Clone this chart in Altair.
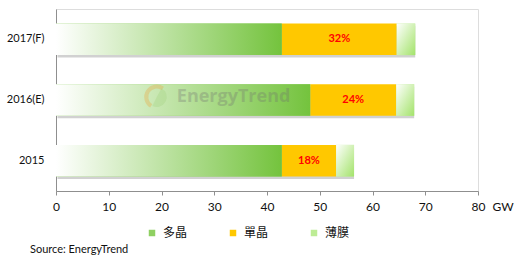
import altair as alt
import pandas as pd

# ---- data ----
categories = ["2017(F)", "2016(E)", "2015"]
series_names = ["多晶", "單晶", "薄膜"]
poly_gw = [42.8, 48.2, 42.8]    # 多晶
mono_gw = [21.8, 16.3, 10.3]    # 單晶
thin_gw = [3.5, 3.4, 3.4]       # 薄膜
mono_share = ["32%", "24%", "18%"]
x_ticks = [0, 10, 20, 30, 40, 50, 60, 70, 80]

# ---- build tables ----
rows = []
for c, p, m, t, s in zip(categories, poly_gw, mono_gw, thin_gw, mono_share):
    a = 0.0
    for name, v in zip(series_names, [p, m, t]):
        rows.append({"cat": c, "series": name, "start": a, "end": a + v,
                     "mid": a + v / 2, "pct": s if name == "單晶" else ""})
        a += v
df = pd.DataFrame(rows)
tot = df.groupby("cat", as_index=False)["end"].max()
tot["zero"] = 0.0

FONT = "Lato"
CJK = "Noto Sans CJK TC"
AXIS_GRAY = "#8f8f8f"

y_enc = alt.Y("cat:N", sort=categories,
              scale=alt.Scale(paddingInner=0.48, paddingOuter=0.24),
              axis=alt.Axis(title=None, ticks=False, domain=True, domainColor=AXIS_GRAY,
                            domainWidth=1, labelFont=FONT, labelFontSize=11,
                            labelColor="#111", labelPadding=12))
x_scale = alt.Scale(domain=[0, 80], nice=False)
x_axis = alt.Axis(values=x_ticks, grid=False, domain=True, domainColor=AXIS_GRAY,
                  tickColor=AXIS_GRAY, tickSize=4, labelFont=FONT, labelFontSize=12,
                  labelColor="#111", labelPadding=6, labelFlush=False, title="GW",
                  titleFont=FONT, titleFontSize=12, titleFontWeight="normal",
                  titleColor="#111", titleX=436, titleY=15, titleAlign="left",
                  titleBaseline="middle")

shadow = alt.Chart(tot).mark_bar(color="#c9c9c9", xOffset=1.5, yOffset=2.5, opacity=0.85).encode(
    x=alt.X("zero:Q", scale=x_scale, axis=x_axis), x2="end:Q", y=y_enc)

solid = alt.Chart(df).mark_bar().encode(
    x=alt.X("start:Q", scale=x_scale, axis=x_axis), x2="end:Q", y=y_enc,
    color=alt.Color("series:N", sort=series_names,
                    scale=alt.Scale(domain=series_names, range=["#8fd062", "#ffc800", "#bdec95"]),
                    legend=alt.Legend(title=None, orient="none", direction="horizontal",
                                      legendX=90, legendY=218, symbolType="square",
                                      symbolSize=42, symbolStrokeWidth=0, labelFont=CJK,
                                      labelFontSize=12, labelColor="#111", labelOffset=5,
                                      columnPadding=39)))

poly_grad = alt.Gradient(gradient="linear",
                         stops=[alt.GradientStop(color="#ffffff", offset=0),
                                alt.GradientStop(color="#74c33d", offset=1)],
                         x1=0, x2=1, y1=0, y2=0)
thin_grad = alt.Gradient(gradient="linear",
                         stops=[alt.GradientStop(color="#ffffff", offset=0),
                                alt.GradientStop(color="#a3e36a", offset=1)],
                         x1=0, x2=1, y1=0, y2=1)

poly = alt.Chart(df).transform_filter(alt.datum.series == "多晶").mark_bar(color=poly_grad).encode(
    x="start:Q", x2="end:Q", y=y_enc)
thin = alt.Chart(df).transform_filter(alt.datum.series == "薄膜").mark_bar(color=thin_grad).encode(
    x="start:Q", x2="end:Q", y=y_enc)

labels = alt.Chart(df).transform_filter(alt.datum.series == "單晶").mark_text(
    color="#ff0000", fontWeight="bold", font=FONT, fontSize=11).encode(
    x="mid:Q", y=y_enc, text="pct:N")

# watermark
wm = pd.DataFrame({"cat": ["2016(E)"], "tx": [22.9], "lx": [19.1], "word": ["EnergyTrend"]})
wm_text = alt.Chart(wm).mark_text(align="left", baseline="middle", dy=-3, font="Open Sans",
                                  fontWeight="bold", fontSize=18, color="#6f6f6f",
                                  opacity=0.3).encode(x="tx:Q", y=y_enc, text="word:N")
wm_ring = alt.Chart(wm).mark_arc(theta=3.7, theta2=6.9, radius=12.5, radius2=8.5,
                                 color="#f0a030", opacity=0.3, yOffset=-3).encode(
    x="lx:Q", y=y_enc)
wm_leaf = alt.Chart(wm).mark_arc(theta=0.5, theta2=3.6, radius=10, radius2=0,
                                 color="#9fd27a", opacity=0.3, yOffset=-3).encode(
    x="lx:Q", y=y_enc)

source = alt.Chart(wm).mark_text(align="left", baseline="middle", font=FONT, fontSize=11,
                                 color="#111").encode(
    x=alt.value(-26), y=alt.value(241), text=alt.value("Source: EnergyTrend"))

chart = alt.layer(shadow, solid, poly, thin, labels, wm_ring, wm_leaf, wm_text, source).properties(
    width=422, height=182,
    padding={"left": 56, "top": 9, "right": 41, "bottom": 68},
    autosize=alt.AutoSizeParams(type="none"),
).configure_view(stroke=None).configure(background="white")

chart.save("out.html", embed_options={"renderer": "svg", "actions": False})
